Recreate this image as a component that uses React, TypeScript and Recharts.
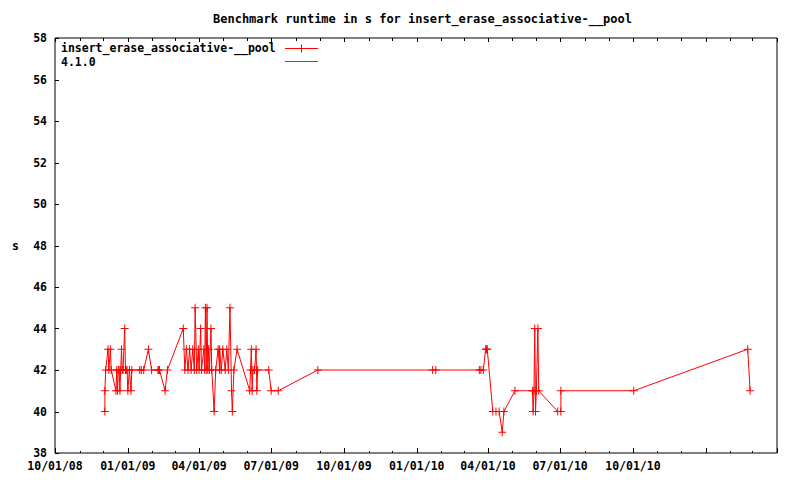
import { Line, LineChart, XAxis, YAxis } from "recharts";

const TITLE = "Benchmark runtime in s for insert_erase_associative-__pool";
const SERIES_NAME = "insert_erase_associative-__pool";
const BASELINE_NAME = "4.1.0";
const SERIES_COLOR = "#ff0000";
const BASELINE_COLOR = "#00a000";

// fecha de cada corrida y su tiempo en segundos
const RUN_DATES = [
  "2008-12-03", "2008-12-03", "2008-12-04", "2008-12-07", "2008-12-08", "2008-12-10",
  "2008-12-11", "2008-12-17", "2008-12-18", "2008-12-19", "2008-12-20", "2008-12-21",
  "2008-12-22", "2008-12-23", "2008-12-24", "2008-12-25", "2008-12-26", "2008-12-28",
  "2008-12-29", "2008-12-30", "2008-12-31", "2009-01-01", "2009-01-03", "2009-01-05",
  "2009-01-06", "2009-01-16", "2009-01-18", "2009-01-21", "2009-01-27", "2009-01-31",
  "2009-02-08", "2009-02-09", "2009-02-10", "2009-02-17", "2009-02-20",
  "2009-03-12", "2009-03-14", "2009-03-16", "2009-03-18", "2009-03-20", "2009-03-22",
  "2009-03-24", "2009-03-26", "2009-03-27", "2009-03-29", "2009-03-31", "2009-04-01",
  "2009-04-03", "2009-04-04", "2009-04-07", "2009-04-08", "2009-04-09", "2009-04-10",
  "2009-04-11", "2009-04-12", "2009-04-13", "2009-04-14", "2009-04-16", "2009-04-17",
  "2009-04-20", "2009-04-22", "2009-04-25", "2009-04-27", "2009-04-27", "2009-04-29",
  "2009-05-01", "2009-05-04", "2009-05-06", "2009-05-08", "2009-05-10", "2009-05-12",
  "2009-05-13", "2009-05-15", "2009-05-19",
  "2009-06-04", "2009-06-05", "2009-06-06", "2009-06-07", "2009-06-08", "2009-06-10",
  "2009-06-12", "2009-06-13", "2009-06-14", "2009-06-28", "2009-07-01", "2009-07-10",
  "2009-08-29", "2010-01-21", "2010-01-25",
  "2010-03-21", "2010-03-23", "2010-03-26", "2010-03-29", "2010-03-30", "2010-03-31",
  "2010-04-07", "2010-04-11", "2010-04-15", "2010-04-19", "2010-04-21", "2010-05-05",
  "2010-05-27", "2010-05-28", "2010-05-29", "2010-05-30", "2010-05-31", "2010-06-01",
  "2010-06-03", "2010-06-04", "2010-06-28", "2010-07-02", "2010-07-02", "2010-10-02",
  "2011-02-23", "2011-02-26",
];

const RUNTIMES = [
  40, 41, 42, 43, 42, 43,
  42, 41, 42, 41, 42, 42,
  41, 42, 43, 42, 42, 44,
  42, 42, 42, 41, 42, 41,
  42, 42, 42, 42, 43, 42,
  42, 42, 42, 41, 42,
  44, 42, 43, 42, 43, 42,
  43, 42, 45, 42, 43, 42,
  44, 42, 43, 42, 45, 42,
  45, 42, 43, 42, 44, 42,
  40, 42, 43, 42, 43, 42,
  43, 42, 43, 42, 45, 41,
  40, 42, 43,
  41, 42, 43, 41, 42, 42,
  43, 41, 42, 42, 41, 41,
  42, 42, 42,
  42, 42, 42, 43, 43, 43,
  40, 40, 40, 39, 40, 41,
  41, 40, 41, 44, 40, 41,
  44, 41, 40, 40, 41, 41,
  43, 41,
];

const X_START = "2008-10-01";
const X_END = "2011-04-01";
const X_TICK_LABELS = [
  "10/01/08", "01/01/09", "04/01/09", "07/01/09", "10/01/09",
  "01/01/10", "04/01/10", "07/01/10", "10/01/10",
];
const Y_TICKS = [38, 40, 42, 44, 46, 48, 50, 52, 54, 56, 58];

const DAY = 86400000;
const toDay = (iso: string) => {
  const [y, m, d] = iso.split("-").map(Number);
  return Date.UTC(y, m - 1, d) / DAY;
};
const labelDay = (label: string) => {
  const [m, d, y] = label.split("/").map(Number);
  return Date.UTC(2000 + y, m - 1, d) / DAY;
};

const data = RUN_DATES.map((date, i) => ({ day: toDay(date), runtime: RUNTIMES[i] }));

// una marca por mes; las de inicio de trimestre son mas largas
const xTicks: number[] = [];
for (let i = 0; i <= 30; i++) xTicks.push(Date.UTC(2008, 9 + i, 1) / DAY);
const labelByDay = new Map(X_TICK_LABELS.map((l) => [labelDay(l), l]));
const isQuarter = (day: number) => new Date(day * DAY).getUTCMonth() % 3 === 0;

const FONT = "'DejaVu Sans Mono', monospace";
const TICK_FONT = 11.5;
const px = (v: number) => Math.round(v) + 0.5;

const BottomTick = (props: any) => {
  const { x, y, payload } = props;
  const len = isQuarter(payload.value) ? 5 : 2;
  const label = labelByDay.get(payload.value);
  return (
    <g>
      <line x1={px(x)} x2={px(x)} y1={y} y2={y - len} stroke="#000" />
      {label && (
        <text
          x={x}
          y={y + 17}
          textAnchor="middle"
          fontFamily={FONT}
          fontSize={TICK_FONT}
          fontWeight="bold"
          fill="#000"
        >
          {label}
        </text>
      )}
    </g>
  );
};

const TopTick = (props: any) => {
  const { x, y, payload } = props;
  const len = isQuarter(payload.value) ? 4 : 3;
  return <line x1={px(x)} x2={px(x)} y1={y} y2={y + len} stroke="#000" />;
};

const LeftTick = (props: any) => {
  const { x, y, payload } = props;
  return (
    <g>
      <line x1={x} x2={x + 4} y1={px(y)} y2={px(y)} stroke="#000" />
      <text
        x={x - 8}
        y={y + 4}
        textAnchor="end"
        fontFamily={FONT}
        fontSize={TICK_FONT}
        fontWeight="bold"
        fill="#000"
      >
        {payload.value}
      </text>
    </g>
  );
};

const RightTick = (props: any) => {
  const { x, y } = props;
  return <line x1={x} x2={x - 4} y1={px(y)} y2={px(y)} stroke="#000" />;
};

const Plus = (props: any) => {
  const { cx, cy, index } = props;
  if (cx == null || cy == null) return <g key={index} />;
  return (
    <path
      key={index}
      d={`M${cx - 4},${cy}h8M${cx},${cy - 4}v8`}
      stroke={SERIES_COLOR}
      strokeWidth={1}
      fill="none"
    />
  );
};

const LEGEND_ROWS = [
  { name: SERIES_NAME, color: SERIES_COLOR, marker: true, baseline: 52, lineY: 48.5 },
  { name: BASELINE_NAME, color: BASELINE_COLOR, marker: false, baseline: 66, lineY: 61.5 },
];

function Overlay() {
  return (
    <svg
      width={800}
      height={480}
      style={{ position: "absolute", left: 0, top: 0, pointerEvents: "none" }}
    >
      <text x={422.5} y={23} textAnchor="middle" fontFamily={FONT} fontSize={12} fontWeight="bold" fill="#000">
        {TITLE}
      </text>
      {LEGEND_ROWS.map((row) => (
        <g key={row.name}>
          <text x={61} y={row.baseline} fontFamily={FONT} fontSize={TICK_FONT} fontWeight="bold" fill="#000">
            {row.name}
          </text>
          <line x1={285} x2={318} y1={row.lineY} y2={row.lineY} stroke={row.color} />
          {row.marker && (
            <line x1={301.5} x2={301.5} y1={row.lineY - 4} y2={row.lineY + 4} stroke={row.color} />
          )}
        </g>
      ))}
    </svg>
  );
}

export default function App() {
  return (
    <div style={{ position: "absolute", left: 0, top: 0, width: 800, height: 480, background: "#fff" }}>
      <LineChart width={800} height={480} data={data} margin={{ top: 28, right: 13, bottom: 0, left: 5 }}>
        <XAxis
          dataKey="day"
          type="number"
          domain={[toDay(X_START), toDay(X_END)]}
          ticks={xTicks}
          interval={0}
          height={27}
          tickSize={0}
          tickMargin={0}
          tickLine={false}
          stroke="#000"
          tick={BottomTick}
        />
        <XAxis
          xAxisId="top"
          orientation="top"
          dataKey="day"
          type="number"
          domain={[toDay(X_START), toDay(X_END)]}
          ticks={xTicks}
          interval={0}
          height={10}
          tickSize={0}
          tickMargin={0}
          tickLine={false}
          stroke="#000"
          tick={TopTick}
        />
        <YAxis
          type="number"
          domain={[38, 58]}
          ticks={Y_TICKS}
          interval={0}
          width={50}
          tickSize={0}
          tickMargin={0}
          tickLine={false}
          stroke="#000"
          tick={LeftTick}
          label={{
            value: "s",
            position: "insideLeft",
            offset: 7,
            style: { fontFamily: FONT, fontSize: TICK_FONT, fontWeight: "bold", fill: "#000" },
          }}
        />
        <YAxis
          yAxisId="right"
          orientation="right"
          type="number"
          domain={[38, 58]}
          ticks={Y_TICKS}
          interval={0}
          width={10}
          tickSize={0}
          tickMargin={0}
          tickLine={false}
          stroke="#000"
          tick={RightTick}
        />
        <Line
          name={SERIES_NAME}
          dataKey="runtime"
          stroke={SERIES_COLOR}
          strokeWidth={1}
          dot={Plus}
          activeDot={false}
          isAnimationActive={false}
        />
      </LineChart>
      <Overlay />
    </div>
  );
}
